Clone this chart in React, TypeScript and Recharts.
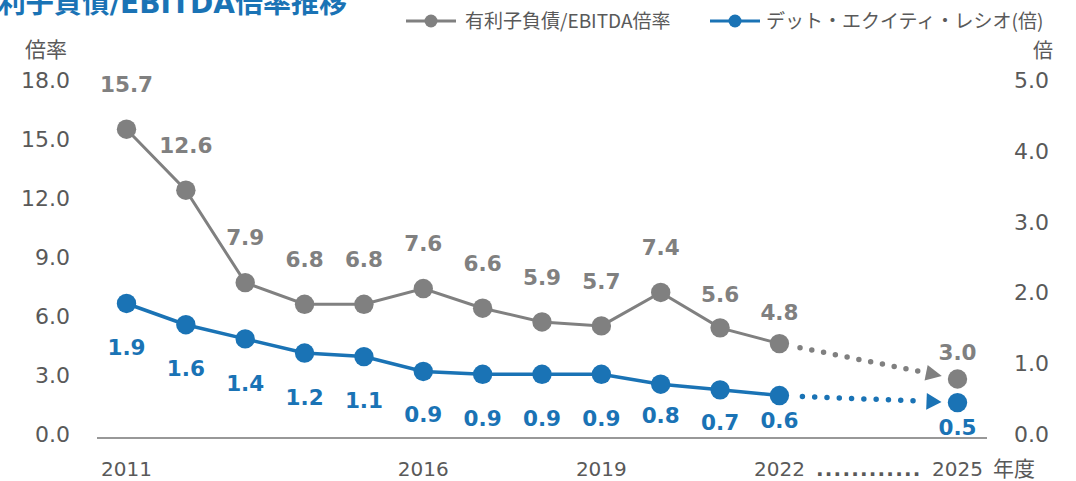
import { Line, LineChart, XAxis, YAxis } from "recharts";

const YEARS = [
  "2011", "2012", "2013", "2014", "2015", "2016", "2017", "2018",
  "2019", "2020", "2021", "2022", "2023", "2024", "2025",
];

// 有利子負債/EBITDA倍率 (left axis)
const DEBT_EBITDA = [15.7, 12.6, 7.9, 6.8, 6.8, 7.6, 6.6, 5.9, 5.7, 7.4, 5.6, 4.8, null, null, 3.0];
const DEBT_EBITDA_LABELS = ["15.7", "12.6", "7.9", "6.8", "6.8", "7.6", "6.6", "5.9", "5.7", "7.4", "5.6", "4.8", "", "", "3.0"];

// デット・エクイティ・レシオ (right axis)
const DE_RATIO = [1.9, 1.6, 1.4, 1.2, 1.15, 0.94, 0.9, 0.9, 0.9, 0.76, 0.68, 0.6, null, null, 0.5];
const DE_RATIO_LABELS = ["1.9", "1.6", "1.4", "1.2", "1.1", "0.9", "0.9", "0.9", "0.9", "0.8", "0.7", "0.6", "", "", "0.5"];

const LEFT_TICKS = [0, 3, 6, 9, 12, 15, 18];
const RIGHT_TICKS = [0, 1, 2, 3, 4, 5];
const SHOWN_YEARS = ["2011", "2016", "2019", "2022", "2025"];
const LAST_ACTUAL = "2022";
const FORECAST = "2025";

const GRAY = "#808080";
const BLUE = "#1a73b5";
const TEXT = "#595959";
const NUM_FONT = "'DejaVu Sans', 'Noto Sans CJK JP', sans-serif";
const JP_FONT = "'Noto Sans CJK JP', sans-serif";

// label offsets (label centre relative to marker centre)
const GRAY_DY: Record<number, number> = { 10: -34, 11: -31, 14: -27 };
const BLUE_DY: Record<number, number> = { 5: 43, 9: 31, 10: 32, 11: 25, 14: 25 };

const data = YEARS.map((year, i) => {
  const proj = year === LAST_ACTUAL || year === FORECAST;
  return {
    year,
    debt: DEBT_EBITDA[i],
    de: DE_RATIO[i],
    debtProj: proj ? DEBT_EBITDA[i] : null,
    deProj: proj ? DE_RATIO[i] : null,
  };
});

// 0-length dashes + round caps = dots; first dot hidden under the marker
const dotted = (count: number, first: number, step: number) =>
  `0 ${first} ` + Array(count - 1).fill(`0 ${step}`).join(" ") + " 0 2000";

function makeDot(color: string, labels: string[], offsets: Record<number, number>, base: number) {
  return (props: any) => {
    const { cx, cy, index } = props;
    if (cx == null || cy == null || !labels[index]) return <g key={`dot-${index}`} />;
    const dy = offsets[index] ?? base;
    return (
      <g key={`dot-${index}`}>
        <circle cx={cx} cy={cy} r={9.7} fill={color} />
        <text
          x={cx}
          y={cy + dy}
          dy="0.36em"
          textAnchor="middle"
          fontFamily={NUM_FONT}
          fontWeight="bold"
          fontSize={21.5}
          fill={color}
        >
          {labels[index]}
        </text>
      </g>
    );
  };
}

const LeftTick = ({ x, y, payload }: any) => (
  <text x={x} y={y - 4} dy="0.36em" textAnchor="end" fontFamily={NUM_FONT} fontSize={22} fill={TEXT}>
    {Number(payload.value).toFixed(1)}
  </text>
);

const RightTick = ({ x, y, payload }: any) => (
  <text x={x} y={y - 4} dy="0.36em" textAnchor="start" fontFamily={NUM_FONT} fontSize={22} fill={TEXT}>
    {Number(payload.value).toFixed(1)}
  </text>
);

const YearTick = ({ x, y, payload }: any) => {
  if (payload.value === "2023") {
    return (
      <text x={x + 30} y={y + 31} dy="0.36em" textAnchor="middle" fontFamily={NUM_FONT} fontWeight="bold" fontSize={20} letterSpacing={1.2} fill={TEXT}>
        ............
      </text>
    );
  }
  if (!SHOWN_YEARS.includes(payload.value)) return <g />;
  return (
    <text x={x} y={y + 31} dy="0.36em" textAnchor="middle" fontFamily={NUM_FONT} fontSize={20} fill={TEXT}>
      {payload.value}
    </text>
  );
};

export default function App() {
  return (
    <div style={{ position: "absolute", left: 0, top: 0, width: 1076, height: 481, background: "white", overflow: "hidden" }}>
      <svg width={0} height={0} style={{ position: "absolute" }}>
        <defs>
          <marker id="arrowGray" markerUnits="userSpaceOnUse" markerWidth={34} markerHeight={18} refX={32} refY={8} orient="auto" overflow="visible">
            <path d="M0,0 L16,8 L0,16 z" fill={GRAY} />
          </marker>
          <marker id="arrowBlue" markerUnits="userSpaceOnUse" markerWidth={34} markerHeight={18} refX={31} refY={8.5} orient="auto" overflow="visible">
            <path d="M0,0 L15,8.5 L0,17 z" fill={BLUE} />
          </marker>
        </defs>
      </svg>

      <LineChart width={1076} height={481} data={data} margin={{ top: 84, right: 0, bottom: 0, left: 0 }}>
        <XAxis
          dataKey="year"
          interval={0}
          padding={{ left: 29.5, right: 29.5 }}
          height={43}
          tickSize={0}
          tickMargin={0}
          tick={<YearTick />}
          axisLine={{ stroke: "#767676", strokeWidth: 1.4 }}
        />
        <YAxis
          yAxisId="left"
          domain={[0, 18]}
          ticks={LEFT_TICKS}
          width={97}
          tickSize={0}
          tickMargin={27}
          axisLine={false}
          tick={<LeftTick />}
        />
        <YAxis
          yAxisId="right"
          orientation="right"
          domain={[0, 5]}
          ticks={RIGHT_TICKS}
          width={89}
          tickSize={0}
          tickMargin={27}
          axisLine={false}
          tick={<RightTick />}
        />
        <Line
          yAxisId="left"
          dataKey="debtProj"
          stroke={GRAY}
          strokeWidth={5.5}
          strokeLinecap="round"
          strokeDasharray={dotted(11, 21, 12)}
          markerEnd="url(#arrowGray)"
          connectNulls
          dot={false}
          activeDot={false}
          isAnimationActive={false}
        />
        <Line
          yAxisId="right"
          dataKey="deProj"
          stroke={BLUE}
          strokeWidth={5.5}
          strokeLinecap="round"
          strokeDasharray={dotted(10, 23, 12.3)}
          markerEnd="url(#arrowBlue)"
          connectNulls
          dot={false}
          activeDot={false}
          isAnimationActive={false}
        />
        <Line
          yAxisId="left"
          dataKey="debt"
          stroke={GRAY}
          strokeWidth={3}
          dot={makeDot(GRAY, DEBT_EBITDA_LABELS, GRAY_DY, -45)}
          activeDot={false}
          isAnimationActive={false}
        />
        <Line
          yAxisId="right"
          dataKey="de"
          stroke={BLUE}
          strokeWidth={3.5}
          dot={makeDot(BLUE, DE_RATIO_LABELS, BLUE_DY, 44)}
          activeDot={false}
          isAnimationActive={false}
        />
      </LineChart>

      <svg width={1076} height={481} style={{ position: "absolute", left: 0, top: 0, pointerEvents: "none" }}>
        <text x={347} y={13} textAnchor="end" fontFamily={NUM_FONT} fontWeight="bold" fontSize={28} fill={BLUE}>
          有利子負債/EBITDA倍率推移
        </text>

        <line x1={406} x2={456} y1={21} y2={21} stroke={GRAY} strokeWidth={3} />
        <circle cx={431} cy={21} r={6.5} fill={GRAY} />
        <text x={465} y={21} dy="0.36em" fontFamily={JP_FONT} fontSize={19} fill={TEXT}>
          有利子負債/EBITDA倍率
        </text>

        <line x1={710} x2={760} y1={21} y2={21} stroke={BLUE} strokeWidth={3} />
        <circle cx={735} cy={21} r={6.5} fill={BLUE} />
        <text x={766} y={21} dy="0.36em" fontFamily={JP_FONT} fontSize={19} fill={TEXT}>
          デット・エクイティ・レシオ(倍)
        </text>

        <text x={46} y={49} dy="0.36em" textAnchor="middle" fontFamily={JP_FONT} fontSize={21} fill={TEXT}>
          倍率
        </text>
        <text x={1043} y={51} dy="0.36em" textAnchor="middle" fontFamily={JP_FONT} fontSize={20} fill={TEXT}>
          倍
        </text>
        <text x={1014} y={468} dy="0.36em" textAnchor="middle" fontFamily={JP_FONT} fontSize={21} fill={TEXT}>
          年度
        </text>
      </svg>
    </div>
  );
}
